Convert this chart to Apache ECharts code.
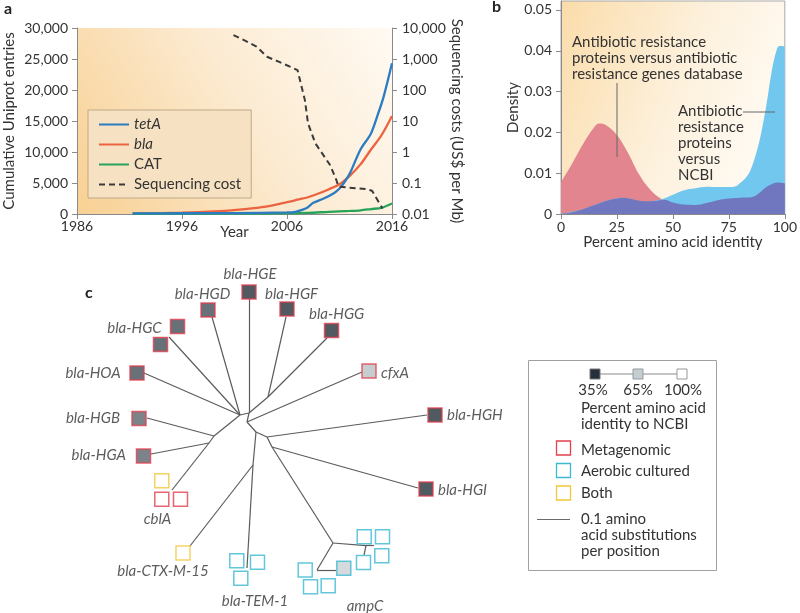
<!DOCTYPE html>
<html><head><meta charset="utf-8">
<script src="https://cdn.jsdelivr.net/npm/echarts@6/dist/echarts.min.js"></script>
<style>html,body{margin:0;padding:0;background:#fff}#c{width:800px;height:613px}</style>
</head><body><div id="c"></div>
<script>
// ---------- Panel a data ----------
const yearTicks = [1986, 1996, 2006, 2016];
const tetA = [[1991.3,100],[1996,120],[2001,150],[2006,250],[2006.8,350],[2007.5,700],[2008,1100],[2008.5,1800],[2009.5,2500],[2010.5,3400],[2011,4100],[2011.5,5200],[2012,6600],[2013,10400],[2014,13000],[2014.6,15800],[2015.2,18900],[2016,24300]];
const bla = [[1991.3,100],[1996,200],[1999,400],[2002,800],[2004,1200],[2006,1900],[2007,2300],[2008,2700],[2009,3300],[2010,4000],[2011,4800],[2012,6200],[2013,8000],[2014,10400],[2015,12700],[2016,15800]];
const CAT = [[1991.3,30],[2006,100],[2008,180],[2010,350],[2012,500],[2013,600],[2014,800],[2015,1000],[2016,1700]];
const seqCost = [[2000.9,5900],[2002,3900],[2003.1,2500],[2004.1,1180],[2005.2,820],[2007.0,440],[2007.7,48],[2008.0,8.4],[2008.7,1.9],[2010.1,0.38],[2010.7,0.125],[2010.9,0.076],[2013.6,0.063],[2014.1,0.056],[2015.1,0.015]];
const costLabels = {'-2':'0.01','-1':'0.1','0':'1','1':'10','2':'100','3':'1,000','4':'10,000'};

// ---------- Panel b data ----------
const densityTicks = [0, 0.01, 0.02, 0.03, 0.04, 0.05];
const argDb = [[0,0.0078],[5,0.0124],[10,0.0173],[15,0.0214],[17,0.0222],[20,0.0218],[25,0.0193],[30,0.0149],[35,0.0096],[40,0.0059],[45,0.0037],[50,0.0026],[60,0.0024],[70,0.0033],[80,0.0040],[90,0.0058],[95,0.0074],[100,0.0074]];
const ncbi = [[0,0],[10,0.0012],[20,0.0032],[28,0.0040],[37,0.0030],[45,0.0036],[50,0.0047],[55,0.0058],[60,0.0063],[65,0.0067],[70,0.0066],[75,0.0066],[78,0.0068],[80,0.0076],[83,0.0092],[85,0.0112],[88,0.0165],[90,0.0214],[92,0.0275],[94,0.0345],[96,0.0395],[97.5,0.0412],[99,0.0412],[100,0.0409]];
const overlap = [[0,0],[5,0.0004],[10,0.0012],[15,0.0022],[20,0.0032],[25,0.0038],[28,0.0040],[32,0.0036],[37,0.0031],[42,0.0032],[46,0.0035],[50,0.0028],[55,0.0023],[60,0.0022],[65,0.0027],[70,0.0034],[75,0.0038],[80,0.0040],[85,0.0041],[88,0.0049],[91,0.0063],[94,0.0073],[97,0.0077],[100,0.0075]];

// ---------- Panel c data (tree layout units) ----------
// leaves: [name, x, y, % identity to NCBI, source]  source: M metagenomic, A aerobic cultured, B both
const leaves = [
  ['bla-HGE',249,292,35,'M'],['bla-HGF',287,309,35,'M'],['bla-HGG',331.5,330.5,35,'M'],
  ['cfxA',369,371,65,'M'],['bla-HGH',435,415,35,'M'],['bla-HGI',426,489,35,'M'],
  ['bla-HGD',208,310,41,'M'],['bla-HGC',177.5,326.5,41,'M'],['bla-HGC',160.5,344.5,41,'M'],
  ['bla-HOA',137,373,41,'M'],['bla-HGB',139,418.5,46,'M'],['bla-HGA',143.5,456,46,'M'],
  ['cblA',161.8,480.8,100,'B'],['cblA',161.8,499.2,100,'M'],['cblA',180.5,499.2,100,'M'],
  ['bla-CTX-M-15',183,553,100,'B'],
  ['bla-TEM-1',236.8,560.8,100,'A'],['bla-TEM-1',257.5,562.2,100,'A'],['bla-TEM-1',240.8,578.2,100,'A'],
  ['ampC',305.2,570,100,'A'],['ampC',310.5,586.7,100,'A'],['ampC',328.2,585.8,100,'A'],['ampC',343.8,568.2,70,'A'],
  ['ampC',364.2,536.7,100,'A'],['ampC',382.5,536.7,100,'A'],['ampC',381.8,555.8,100,'A'],['ampC',363.5,562.5,100,'A']
];
const treeNodes = {
  N0:[240,415], N1:[249,413], N2:[247,422], N3:[256,432], N4:[267,437], N5:[272,447],
  NF:[268,397], NL1:[214,436], NL2:[209,443], NC:[172,490], NT:[253,465], NTEM:[247,568],
  A0:[333,543], A1:[366,545.7], A2:[374,545.7], A3:[317,570],
  HOA:[144,373], HGC:[169,337], HGD:[212,317], HGE:[249,299], HGF:[286,317], HGG:[327,338],
  CFXA:[362,372], HGH:[427,415], HGI:[418,488], HGB:[147,418], HGA:[151,454], CTX:[190,546],
  AG:[336,570], A1S:[364,555]
};
const treeEdges = [
  ['N0','N1'],['N1','N2'],['N2','N3'],['N3','N4'],['N4','N5'],
  ['N0','HOA'],['N0','HGC'],['N0','HGD'],['N1','HGE'],['N1','NF'],['NF','HGG'],['NF','HGF'],
  ['N2','CFXA'],['N0','NL1'],['NL1','NL2'],['NL2','NC'],['NL1','HGB'],['NL2','HGA'],
  ['N3','NT'],['NT','NTEM'],['NT','CTX'],['N4','HGH'],['N5','HGI'],['N5','A0'],
  ['A0','A1'],['A1','A2'],['A1','A1S'],['A0','A3'],['A3','AG']
];
// tree labels: [text, x, y, position]
const treeLabels = [
  ['bla-HGE',250,274,'inside'],['bla-HGD',202.5,294,'inside'],['bla-HGF',265,294.5,'right'],
  ['bla-HGG',309,314,'right'],['bla-HGC',161.7,327.7,'left'],['bla-HOA',120.7,373,'left'],
  ['bla-HGB',120,418,'left'],['bla-HGA',126,455,'left'],['cfxA',381,373,'right'],
  ['bla-HGH',447,415,'right'],['bla-HGI',438,490,'right'],['cblA',157.5,519,'inside'],
  ['bla-CTX-M-15',163,571,'inside'],['bla-TEM-1',255,601,'inside'],['ampC',365,606,'inside']
];
const sourceColors = {M:'#e2404f', A:'#3cb9d2', B:'#f3c63c'};
const identityColors = ['#25303a','#c4cdd1','#ffffff'];

// ---------- chart ----------
const FONT = 'Lato';
const TXT = '#333';
const AX = '#8a8a8a';
const chart = echarts.init(document.getElementById('c'), null, {renderer:'canvas'});

const gradA = new echarts.graphic.LinearGradient(0,1,1,0,[
  {offset:0,color:'#f8d093'},{offset:0.55,color:'#fcebd2'},{offset:1,color:'#fffaf3'}]);
const gradB = new echarts.graphic.LinearGradient(0,0,1,0.4,[
  {offset:0,color:'#fbdcaa'},{offset:0.6,color:'#fdf1dd'},{offset:1,color:'#fffaf2'}]);

const tickStyle = {color:AX};
const labelStyle = {color:TXT, fontFamily:FONT, fontSize:14};

function edgeCoords(e){ return {coords:[treeNodes[e[0]], treeNodes[e[1]]]}; }

const option = {
  animation:false,
  textStyle:{fontFamily:FONT},
  grid:[
    {left:77, top:28, width:315, height:186, show:true, borderWidth:0, backgroundColor:gradA},
    {left:561, top:1, width:228, height:213, show:true, borderWidth:1, borderColor:'#aaa', backgroundColor:gradB},
    {left:0, top:0, width:800, height:613, show:false}
  ],
  xAxis:[
    {gridIndex:0, type:'value', min:1986, max:2016, name:'Year', nameLocation:'middle', nameGap:11, nameMoveOverlap:false,
     nameTextStyle:{color:TXT, fontFamily:FONT, fontSize:15},
     axisLine:{lineStyle:{color:AX}}, axisTick:{customValues:yearTicks, length:5, lineStyle:tickStyle},
     axisLabel:Object.assign({customValues:yearTicks, margin:5, formatter:v=>String(v)}, labelStyle), splitLine:{show:false}},
    {gridIndex:1, type:'value', min:0, max:100, interval:25, name:'Percent amino acid identity', nameLocation:'middle', nameGap:21, nameMoveOverlap:false,
     nameTextStyle:{color:TXT, fontFamily:FONT, fontSize:15},
     axisLine:{lineStyle:{color:AX}}, axisTick:{length:5, lineStyle:tickStyle},
     axisLabel:Object.assign({margin:6}, labelStyle), splitLine:{show:false}},
    {gridIndex:2, type:'value', min:0, max:800, show:false}
  ],
  yAxis:[
    {gridIndex:0, type:'value', min:0, max:30000, interval:5000, name:'Cumulative Uniprot entries', nameLocation:'middle', nameGap:60, nameMoveOverlap:false,
     nameTextStyle:{color:TXT, fontFamily:FONT, fontSize:15},
     axisLine:{show:true, lineStyle:{color:AX}}, axisTick:{show:true, length:5, lineStyle:tickStyle},
     axisLabel:Object.assign({margin:9, formatter:v=>v.toLocaleString('en-US')}, labelStyle), splitLine:{show:false}},
    {gridIndex:0, type:'log', logBase:10, min:0.01, max:10000, position:'right', name:'Sequencing costs (US$ per Mb)', nameLocation:'middle', nameGap:57, nameRotate:-90, nameMoveOverlap:false,
     nameTextStyle:{color:TXT, fontFamily:FONT, fontSize:15},
     axisLine:{show:true, lineStyle:{color:AX}}, axisTick:{show:true, length:5, lineStyle:tickStyle},
     axisLabel:Object.assign({margin:10, formatter:v=>costLabels[String(Math.round(Math.log10(v)))]}, labelStyle), splitLine:{show:false}},
    {gridIndex:1, type:'value', min:0, max:0.0522, name:'Density', nameLocation:'middle', nameGap:40, nameMoveOverlap:false,
     nameTextStyle:{color:TXT, fontFamily:FONT, fontSize:15},
     axisLine:{show:true, lineStyle:{color:AX}}, axisTick:{show:true, customValues:densityTicks, length:5, lineStyle:tickStyle},
     axisLabel:Object.assign({customValues:densityTicks, margin:9, formatter:v=>v===0?'0':v.toFixed(2)}, labelStyle), splitLine:{show:false}},
    {gridIndex:2, type:'value', min:0, max:613, inverse:true, show:false}
  ],
  legend:{
    data:['tetA','bla','CAT','Sequencing cost'], orient:'vertical', left:88, top:110,
    itemWidth:30, itemHeight:12, itemGap:5, padding:[7,10,6,10],
    itemStyle:{opacity:0, borderWidth:0},
    backgroundColor:'#f6e2c2', borderColor:'#bea987', borderWidth:1,
    textStyle:{color:TXT, fontFamily:FONT, fontSize:15, rich:{i:{fontStyle:'italic', fontFamily:FONT, fontSize:15, color:TXT}}},
    formatter:n => (n==='tetA'||n==='bla') ? '{i|'+n+'}' : n
  },
  visualMap:{type:'continuous', show:false, seriesIndex:8, dimension:2, min:35, max:100, inRange:{color:identityColors}},
  series:[
    {name:'tetA', type:'line', xAxisIndex:0, yAxisIndex:0, data:tetA, symbol:'none', smooth:0.3, lineStyle:{color:'#2b7cc1', width:2.3}, itemStyle:{color:'#2b7cc1'}, z:4},
    {name:'bla', type:'line', xAxisIndex:0, yAxisIndex:0, data:bla, symbol:'none', smooth:0.3, lineStyle:{color:'#ec6340', width:2.3}, itemStyle:{color:'#ec6340'}, z:3},
    {name:'CAT', type:'line', xAxisIndex:0, yAxisIndex:0, data:CAT, symbol:'none', smooth:0.3, lineStyle:{color:'#27a35a', width:2.3}, itemStyle:{color:'#27a35a'}, z:3},
    {name:'Sequencing cost', type:'line', xAxisIndex:0, yAxisIndex:1, data:seqCost, symbol:'none', lineStyle:{color:'#3a3a3a', width:2, type:[6,4]}, itemStyle:{color:'#3a3a3a'}, z:5},
    {name:'ARG database', type:'line', xAxisIndex:1, yAxisIndex:2, data:argDb, symbol:'none', smooth:0.4, lineStyle:{width:0}, areaStyle:{color:'#e2858f', opacity:1}, z:2},
    {name:'NCBI', type:'line', xAxisIndex:1, yAxisIndex:2, data:ncbi, symbol:'none', smooth:0.4, lineStyle:{width:0}, areaStyle:{color:'#72c7ef', opacity:1}, z:3},
    {name:'Overlap', type:'line', xAxisIndex:1, yAxisIndex:2, data:overlap, symbol:'none', smooth:0.4, lineStyle:{width:0}, areaStyle:{color:'#7077bf', opacity:1}, z:4},
    {name:'tree', type:'lines', coordinateSystem:'cartesian2d', xAxisIndex:2, yAxisIndex:3, data:treeEdges.map(edgeCoords),
     lineStyle:{color:'#5c5c5c', width:1.2, opacity:1}, z:2, silent:true},
    {name:'leaves', type:'scatter', xAxisIndex:2, yAxisIndex:3, symbol:'rect', symbolSize:14, z:5,
     data:leaves.map(l=>({name:l[0], value:[l[1],l[2],l[3]], itemStyle:{borderColor:sourceColors[l[4]], borderWidth:1.5}}))},
    {name:'treeLabels', type:'scatter', xAxisIndex:2, yAxisIndex:3, symbolSize:0, z:6, silent:true,
     data:treeLabels.map(t=>({name:t[0], value:[t[1],t[2]], label:{show:true, position:t[3], distance:0, formatter:'{b}',
       fontStyle:'italic', fontFamily:FONT, fontSize:15, color:TXT}}))}
  ],
  graphic:[
    {type:'text', left:4, top:1, style:{text:'a', font:'bold 16px Lato', fill:'#222'}},
    {type:'text', left:492, top:-1, style:{text:'b', font:'bold 16px Lato', fill:'#222'}},
    {type:'text', left:85, top:285, style:{text:'c', font:'bold 16px Lato', fill:'#222'}},
    // panel b annotations
    {type:'text', x:572, y:34, z:10, style:{text:'Antibiotic resistance\nproteins versus antibiotic\nresistance genes database', font:'15px Lato', fill:TXT, lineHeight:16}},
    {type:'line', z:10, shape:{x1:617, y1:83, x2:617, y2:157}, style:{stroke:'#666', lineWidth:1}},
    {type:'text', x:678, y:103, z:10, style:{text:'Antibiotic\nresistance\nproteins\nversus\nNCBI', font:'15px Lato', fill:TXT, lineHeight:16}},
    {type:'line', z:10, shape:{x1:743, y1:112, x2:775, y2:112}, style:{stroke:'#666', lineWidth:1}},
    // panel c legend box
    {type:'rect', z:1, shape:{x:528.5, y:360.5, width:188, height:210}, style:{fill:'#fff', stroke:'#a0a0a0', lineWidth:1}},
    {type:'line', z:2, shape:{x1:600, y1:374, x2:633, y2:374}, style:{stroke:'#8a8a8a', lineWidth:1}},
    {type:'line', z:2, shape:{x1:643, y1:374, x2:677, y2:374}, style:{stroke:'#8a8a8a', lineWidth:1}},
    {type:'rect', z:3, shape:{x:590, y:369, width:10, height:10}, style:{fill:identityColors[0], stroke:'#777', lineWidth:1}},
    {type:'rect', z:3, shape:{x:633, y:369, width:10, height:10}, style:{fill:identityColors[1], stroke:'#999', lineWidth:1}},
    {type:'rect', z:3, shape:{x:677, y:369, width:10, height:10}, style:{fill:identityColors[2], stroke:'#999', lineWidth:1}},
    {type:'text', z:3, x:593, y:390, style:{text:'35%', font:'15px Lato', fill:TXT, align:'center', verticalAlign:'middle'}},
    {type:'text', z:3, x:638, y:390, style:{text:'65%', font:'15px Lato', fill:TXT, align:'center', verticalAlign:'middle'}},
    {type:'text', z:3, x:683, y:390, style:{text:'100%', font:'15px Lato', fill:TXT, align:'center', verticalAlign:'middle'}},
    {type:'text', z:3, x:581, y:400, style:{text:'Percent amino acid\nidentity to NCBI', font:'15px Lato', fill:TXT, lineHeight:16}},
    {type:'rect', z:3, shape:{x:556.5, y:441, width:14, height:14}, style:{fill:'#fff', stroke:sourceColors.M, lineWidth:1.3}},
    {type:'rect', z:3, shape:{x:556.5, y:463.5, width:14, height:14}, style:{fill:'#fff', stroke:sourceColors.A, lineWidth:1.3}},
    {type:'rect', z:3, shape:{x:556.5, y:486, width:14, height:14}, style:{fill:'#fff', stroke:sourceColors.B, lineWidth:1.3}},
    {type:'text', z:3, x:581, y:450.5, style:{text:'Metagenomic', font:'15px Lato', fill:TXT, verticalAlign:'middle'}},
    {type:'text', z:3, x:581, y:471, style:{text:'Aerobic cultured', font:'15px Lato', fill:TXT, verticalAlign:'middle'}},
    {type:'text', z:3, x:581, y:493.5, style:{text:'Both', font:'15px Lato', fill:TXT, verticalAlign:'middle'}},
    {type:'line', z:3, shape:{x1:537, y1:519.5, x2:570, y2:519.5}, style:{stroke:'#6a6a6a', lineWidth:1.2}},
    {type:'text', z:3, x:581, y:511, style:{text:'0.1 amino\nacid substitutions\nper position', font:'15px Lato', fill:TXT, lineHeight:16}}
  ]
};
chart.setOption(option);
</script></body></html>
